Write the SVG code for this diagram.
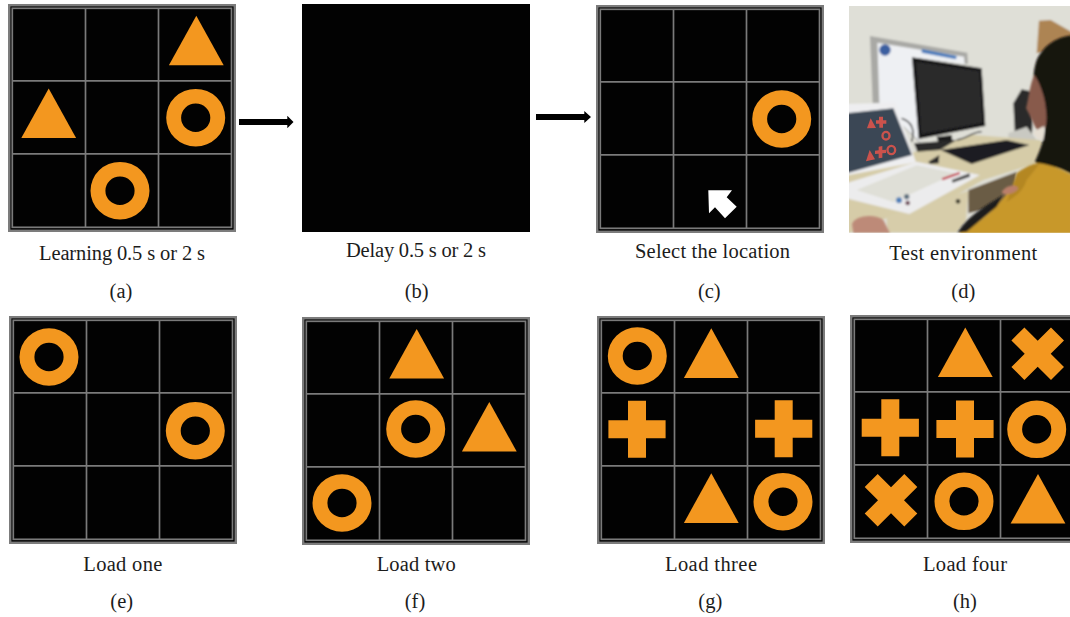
<svg xmlns="http://www.w3.org/2000/svg" width="1070" height="617" viewBox="0 0 1070 617">
<style>
.sh{fill:#f3971f}
.cap{font-family:"Liberation Serif","Times New Roman",serif;font-size:20.5px;fill:#1c1c1c}
.mid{text-anchor:middle}
.gl{stroke:#7a7a7a;stroke-width:1.7;fill:none}
.arr{fill:#000}
</style>
<defs>
<g id="board">
<rect x="1.2" y="1.2" width="225.6" height="225.6" fill="#020202" stroke="#7c7c7c" stroke-width="2.4"/>
<rect x="4.3" y="4.3" width="219.2" height="219" class="gl"/>
<path d="M77.5 4.3V223.3M150.5 4.3V223.3M4.3 76.9H223.5M4.3 149.9H223.5" class="gl"/>
</g>
<path id="ring" class="sh" fill-rule="evenodd" d="M-29.5 0a29.5 28.8 0 1 0 59 0a29.5 28.8 0 1 0 -59 0ZM-14.6 0a14.6 14.2 0 1 1 29.2 0a14.6 14.2 0 1 1 -29.2 0Z"/>
<polygon id="tri" class="sh" points="0,0 27.4,49.6 -27.4,49.6"/>
<polygon id="plus" class="sh" points="-9,-28.5 9,-28.5 9,-9 28.6,-9 28.6,9 9,9 9,28.5 -9,28.5 -9,9 -28.6,9 -28.6,-9 -9,-9"/>
<polygon id="cross" class="sh" points="-13.3,-26.3 0,-13 13.3,-26.3 26.3,-13.3 13,0 26.3,13.3 13.3,26.3 0,13 -13.3,26.3 -26.3,13.3 -13,0 -26.3,-13.3"/>
<filter id="soft" x="-5%" y="-5%" width="110%" height="110%"><feGaussianBlur stdDeviation="3"/></filter>
<clipPath id="photoClip"><rect x="27" y="18" width="663" height="680"/></clipPath>
</defs>

<rect width="1070" height="617" fill="#fff"/>

<g id="connectors">
<polygon class="arr" points="239,119 287.3,119 287.3,115.7 293.5,122 287.3,128.2 287.3,125 239,125"/>
<polygon class="arr" points="536,114 584.3,114 584.3,111 591,117 584.3,123 584.3,120 536,120"/>
</g>

<g id="panel-a">
<use href="#board" x="8" y="4"/>
<use href="#tri" x="196.3" y="15.7"/>
<use href="#tri" x="48.7" y="88.5"/>
<use href="#ring" x="195.7" y="117.7"/>
<use href="#ring" x="120" y="190.7"/>
<text class="cap" x="39" y="260" textLength="166">Learning 0.5 s or 2 s</text>
<text class="cap mid" x="121" y="298">(a)</text>
</g>

<g id="panel-b">
<rect x="302" y="4" width="228" height="228" fill="#020202"/>
<text class="cap" x="346" y="257" textLength="140">Delay 0.5 s or 2 s</text>
<text class="cap mid" x="416.7" y="298">(b)</text>
</g>

<g id="panel-c">
<use href="#board" x="596" y="5"/>
<use href="#ring" x="781.7" y="119"/>
<polygon fill="#fff" points="708.3,190.3 732,190.3 726.7,197.3 736.7,206.7 725,218.3 715,207.3 709,213.3"/>
<text class="cap" x="635" y="258" textLength="155">Select the location</text>
<text class="cap mid" x="709.3" y="298">(c)</text>
</g>

<g id="panel-d">
<g transform="translate(840 0) scale(0.33333)">
<g clip-path="url(#photoClip)">
<g filter="url(#soft)">
<rect x="0" y="0" width="720" height="720" fill="#dfdfd7"/>
<polygon points="597,62 632,60 720,110 720,140 590,160" fill="#ad8452"/>
<polygon points="90,108 382,158 384,192 236,175 240,430 118,310 98,310" fill="#a9a9a5"/>
<polygon points="112,128 372,170 374,192 236,175 240,425 118,310" fill="#eef0f3"/>
<circle cx="135" cy="150" r="17" fill="#3a5ea0"/>
<polygon points="245,147 350,168 348,178 245,158" fill="#4a7cbc"/>
<polygon points="520,310 545,268 580,275 582,290 575,420 525,410" fill="#2a2a2a"/>
<polygon points="505,400 560,380 590,420 505,420" fill="#c9c9c2"/>
<polygon points="216,172 425,205 436,378 236,417" fill="#141417"/>
<polygon points="228,185 418,214 428,368 244,402" fill="#29292c"/>
<polygon points="290,410 335,405 340,440 300,445" fill="#1b1b1b"/>
<polygon points="225,455 400,405 600,420 612,430 590,490 430,540 340,590 150,650 27,700 0,720 0,520" fill="#d6cca8"/>
<polygon points="222,430 350,420 300,450 232,455" fill="#2b2b2b"/>
<path d="M350 420C380 415 400 395 425 395" stroke="#333" stroke-width="4" fill="none"/>
<path d="M185 355C215 365 225 390 215 425" stroke="#222" stroke-width="4" fill="none"/>
<polygon points="302,450 500,420 568,435 395,492" fill="#1e1e20"/>
<polygon points="265,485 298,465 296,490 270,492" fill="#2a2a2a"/>
<polygon points="385,570 530,515 520,610 385,640" fill="#6b5b44"/>
<polygon points="140,650 385,572 378,665 350,698 140,698" fill="#d7cdaa"/>
<circle cx="354" cy="604" r="7" fill="#3b382c"/>
<polygon points="0,312 165,308 228,487 0,530" fill="#eeeef0"/>
<polygon points="20,340 160,325 216,465 20,520" fill="#3b4655"/>
<polygon points="0,555 230,485 420,525 208,642 0,590" fill="#ececed"/>
<polygon points="50,570 230,496 348,520 160,606" fill="#dfdfd7"/>
<polygon points="305,535 358,516 360,522 308,541" fill="#c22f40"/>
<polygon points="335,540 388,520 390,530 338,548" fill="#4a4a4a"/>
<circle cx="177" cy="601" r="9" fill="#4f7fb8"/>
<circle cx="200" cy="590" r="8" fill="#5d6f7e"/>
<circle cx="203" cy="609" r="7" fill="#6a4050"/>
</g>
<g fill="#d8544c" opacity=".92">
<polygon points="92,355 108,384 81,385"/>
<polygon points="117,350 129,350 129,361 139,361 139,371 129,371 129,383 118,383 118,371 108,371 108,361 117,361"/>
<polygon points="89,450 105,478 78,484"/>
<polygon points="116,440 127,438 127,450 138,449 138,459 127,460 127,473 116,475 116,461 105,462 105,452 116,451"/>
<path fill-rule="evenodd" d="M124 407a14 15 0 1 0 28 0a14 15 0 1 0 -28 0ZM131 407a7 8 0 1 1 14 0a7 8 0 1 1 -14 0Z"/>
<path fill-rule="evenodd" d="M139 450a15 16 0 1 0 30 0a15 16 0 1 0 -30 0ZM146 450a8 9 0 1 1 16 0a8 9 0 1 1 -16 0Z"/>
</g>
<g filter="url(#soft)">
<path d="M590 180C620 120 670 105 720 105V540L690 520C640 490 600 500 585 485C610 430 625 380 612 320C585 290 570 240 590 180Z" fill="#17120f"/>
<path d="M583 225C600 250 615 290 618 330C622 365 620 385 598 400C580 375 570 345 558 325C565 300 570 250 583 225Z" fill="#885a4b"/>
<path d="M580 395L612 378L610 420L590 415Z" fill="#e6dfd3"/>
<path d="M360 698C440 660 490 600 530 540C560 500 580 490 600 490C640 495 690 520 720 540V720H360Z" fill="#c8982c"/>
<path d="M530 520C560 495 590 488 600 490L560 540C550 570 530 590 500 605Z" fill="#b48722"/>
<path d="M485 575C500 555 525 550 535 565C525 580 505 585 490 582Z" fill="#ba7f6a"/>
<path d="M352 698C390 640 450 610 490 585L470 620L380 695Z" fill="#1c1c1f"/>
<path d="M36 672C45 645 105 640 130 660L150 700H40Z" fill="#bd8a78"/>
</g>
</g>
</g>
<text class="cap" x="889.3" y="260" textLength="148">Test environment</text>
<text class="cap mid" x="963.3" y="298">(d)</text>
</g>

<g id="panel-e">
<use href="#board" x="9" y="316"/>
<use href="#ring" x="49" y="357"/>
<use href="#ring" x="195.3" y="430.7"/>
<text class="cap" x="83.3" y="571" textLength="79">Load one</text>
<text class="cap mid" x="121.7" y="607.5">(e)</text>
</g>

<g id="panel-f">
<use href="#board" x="302" y="317"/>
<use href="#tri" x="416.7" y="329"/>
<use href="#tri" x="489.3" y="402"/>
<use href="#ring" x="415.7" y="429"/>
<use href="#ring" x="342" y="503"/>
<text class="cap" x="376.7" y="571" textLength="79">Load two</text>
<text class="cap mid" x="415" y="607.5">(f)</text>
</g>

<g id="panel-g">
<use href="#board" x="597" y="316"/>
<use href="#ring" x="637.3" y="356"/>
<use href="#tri" x="711.3" y="328.3"/>
<use href="#plus" x="637" y="429.3"/>
<use href="#plus" x="783.7" y="428.7"/>
<use href="#tri" x="711.3" y="473.3"/>
<use href="#ring" x="783" y="501.7"/>
<text class="cap" x="665" y="571" textLength="92">Load three</text>
<text class="cap mid" x="710.3" y="607.5">(g)</text>
</g>

<g id="panel-h">
<use href="#board" x="850" y="315"/>
<use href="#tri" x="965.3" y="327.5"/>
<use href="#cross" x="1037.7" y="353.7"/>
<use href="#plus" x="890.3" y="427.7"/>
<use href="#plus" x="965" y="429"/>
<use href="#ring" x="1036.7" y="429.3"/>
<use href="#cross" x="891" y="500.3"/>
<use href="#ring" x="964" y="501.3"/>
<use href="#tri" x="1038" y="474"/>
<text class="cap" x="923" y="571" textLength="84">Load four</text>
<text class="cap mid" x="965" y="607.5">(h)</text>
</g>
</svg>
